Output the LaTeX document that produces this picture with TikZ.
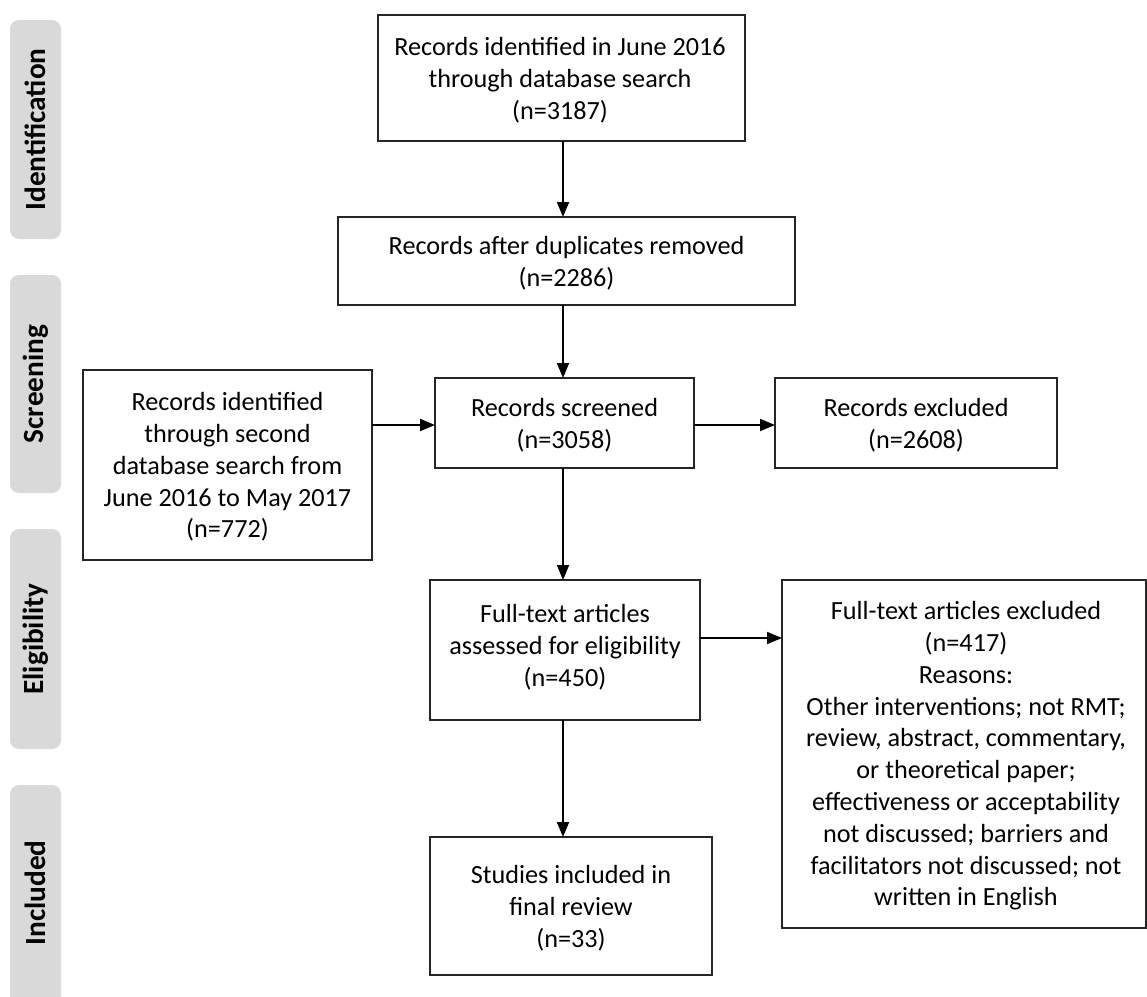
\documentclass[tikz,border=0pt]{standalone}
\usepackage{fontspec}
\setmainfont{Carlito}
\usetikzlibrary{arrows.meta}
\begin{document}
\begin{tikzpicture}[x=1pt,y=-1pt,
  boxtext/.style={font=\fontsize{26.2}{31.8}\selectfont, align=center, inner sep=0pt},
  frame/.style={draw=black!85, line width=1.8pt},
  phase/.style={fill=black!15, rounded corners=9pt, draw=none},
  phasetext/.style={font=\fontsize{29.3}{32}\selectfont\bfseries, rotate=90, inner sep=0pt},
  arr/.style={line width=1.8pt, -{Triangle[length=15pt,width=12pt]}}]
\useasboundingbox (0,0) rectangle (1147,996);
% phase bars
\fill[phase] (10,20) rectangle (61,239);
\node[phasetext] (pid) at (35.5,129.5) {Identification};
\fill[phase] (10,275) rectangle (61,493);
\node[phasetext] (psc) at (35.5,384) {Screening};
\fill[phase] (10,529) rectangle (61,749);
\node[phasetext] (pel) at (35.5,639) {Eligibility};
\fill[phase] (10,785) rectangle (61,1010);
\node[phasetext] (pin) at (35.5,893) {Included};
% boxes
\draw[frame] (378,15) rectangle (745,141);
\node[boxtext] (t1) at (560,80) {Records identified in June 2016\\through database search\\(n=3187)};
\draw[frame] (338,217) rectangle (795,305);
\node[boxtext] (t2) at (566.5,263) {Records after duplicates removed\\(n=2286)};
\draw[frame] (435,378) rectangle (694,468);
\node[boxtext] (t3) at (564.5,425) {Records screened\\(n=3058)};
\draw[frame] (83,370) rectangle (372,560);
\node[boxtext] (t4) at (227.5,467) {Records identified\\through second\\database search from\\June 2016 to May 2017\\(n=772)};
\draw[frame] (775,378) rectangle (1057,468);
\node[boxtext] (t5) at (916,425) {Records excluded\\(n=2608)};
\draw[frame] (430,580) rectangle (700,720);
\node[boxtext] (t6) at (565,647) {Full-text articles\\assessed for eligibility\\(n=450)};
\draw[frame] (782,580) rectangle (1146,928);
\node[boxtext] (t7) at (966,756) {Full-text articles excluded\\(n=417)\\Reasons:\\Other interventions; not RMT;\\review, abstract, commentary,\\or theoretical paper;\\effectiveness or acceptability\\not discussed; barriers and\\facilitators not discussed; not\\written in English};
\draw[frame] (430,837) rectangle (712,975);
\node[boxtext] (t8) at (571,908) {Studies included in\\final review\\(n=33)};
% arrows
\coordinate (a1s) at (563,141); \coordinate (a1e) at (563,217);
\coordinate (a2s) at (563,305); \coordinate (a2e) at (563,378);
\coordinate (a3s) at (372,425); \coordinate (a3e) at (435,425);
\coordinate (a4s) at (694,425); \coordinate (a4e) at (775,425);
\coordinate (a5s) at (563,468); \coordinate (a5e) at (563,580);
\coordinate (a6s) at (700,638); \coordinate (a6e) at (782,638);
\coordinate (a7s) at (563,720); \coordinate (a7e) at (563,837);
\draw[arr] (a1s) -- (a1e);
\draw[arr] (a2s) -- (a2e);
\draw[arr] (a3s) -- (a3e);
\draw[arr] (a4s) -- (a4e);
\draw[arr] (a5s) -- (a5e);
\draw[arr] (a6s) -- (a6e);
\draw[arr] (a7s) -- (a7e);
\end{tikzpicture}
\end{document}
